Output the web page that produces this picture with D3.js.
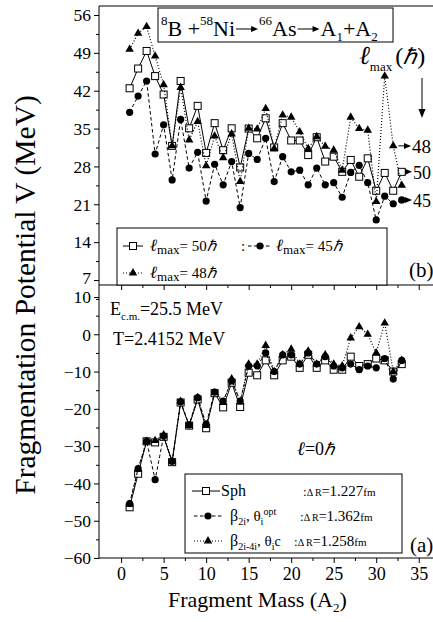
<!DOCTYPE html>
<html><head><meta charset="utf-8">
<script src="https://cdn.jsdelivr.net/npm/d3@7"></script>
<style>
body{margin:0;background:#fff}
svg{display:block}
text{font-family:"Liberation Serif","Times New Roman",serif;fill:#000}
</style>
</head><body>
<svg id="c" width="433" height="622"></svg>
<script>
// ---------- DATA ----------
const masses = [1,2,3,4,5,6,7,8,9,10,11,12,13,14,15,16,17,18,19,20,21,22,23,24,25,26,27,28,29,30,31,32,33];
// top panel (b): fragmentation potential for different l_max
const vL50 = [42.45,46.1,49.35,44.7,41.3,31.8,43.8,35.05,39.2,30.5,36.0,31.0,35.05,27.8,35.0,33.2,36.9,31.5,36.0,32.8,32.8,30.1,33.4,28.9,29.8,27.0,29.2,26.1,29.5,23.5,26.8,23.5,27.0];
const vL45 = [38.0,41.0,43.8,30.3,35.7,25.5,36.7,27.7,30.6,21.6,28.4,24.6,28.9,20.4,30.4,29.3,33.2,25.2,29.8,27.0,27.3,24.6,27.7,24.6,25.0,22.3,26.9,28.2,25.0,18.1,22.5,21.1,21.8];
const vL48 = [49.65,52.6,53.85,48.4,43.1,31.8,42.6,32.9,36.3,28.1,33.6,29.6,34.0,25.2,35.05,34.9,38.7,31.3,37.5,37.1,34.4,31.3,33.5,31.7,31.0,27.3,37.1,35.0,34.7,21.5,44.7,31.8,24.5];
// bottom panel (a): l = 0
const vSph  = [-46.4,-37.4,-28.7,-29.0,-27.5,-34.3,-18.3,-24.5,-17.5,-25.2,-15.8,-19.6,-13.0,-19.5,-10.3,-11.0,-7.0,-11.0,-7.0,-6.0,-9.0,-5.5,-9.0,-7.0,-9.5,-9.5,-6.0,-8.5,-8.0,-6.5,-7.0,-10.0,-8.0];
const vB2   = [-45.4,-36.0,-28.7,-39.0,-27.3,-34.1,-18.1,-24.3,-17.0,-24.1,-15.5,-17.9,-12.5,-17.9,-8.5,-8.5,-5.0,-10.0,-5.5,-5.5,-8.0,-5.0,-8.0,-6.0,-8.5,-9.0,-8.0,-9.5,-8.5,-9.0,-6.5,-12.0,-7.0];
const vB24  = [-45.6,-36.2,-28.7,-28.5,-27.0,-34.0,-18.0,-24.5,-17.0,-24.5,-15.7,-18.3,-12.0,-18.2,-8.0,-8.0,-3.0,-10.0,-5.5,-4.0,-8.0,-4.5,-8.0,-5.5,-8.0,-8.5,-1.0,2.0,0.0,-5.0,3.0,-10.0,-7.0];
// ticks
const xTicks = [0,5,10,15,20,25,30,35];
const topTicks = [7,14,21,28,35,42,49,56];
const botTicks = [10,0,-10,-20,-30,-40,-50,-60];
// end labels (l_max values)
const endLabels = ["48","50","45"];
const endVals = [31.8, 27.0, 21.8];
const deltaR = ["1.227","1.362","1.258"];

// ---------- LAYOUT ----------
const svg = d3.select("#c");
const PL = 99, TOP = 6, MID = 285, BOT = 558, PR = 440;
const x  = d3.scaleLinear().domain([-2.6, 37.5]).range([PL, PR]);
const yT = d3.scaleLinear().domain([7, 56]).range([280, 15]);
const yB = d3.scaleLinear().domain([-60, 10]).range([BOT, 297]);

function ln(x1,y1,x2,y2,w){ svg.append("line").attr("x1",x1).attr("y1",y1).attr("x2",x2).attr("y2",y2).attr("stroke","#000").attr("stroke-width",w||1); }

// axes
function yAxis(scale, ticks, minor){
  const g = svg.append("g").attr("transform",`translate(${PL},0)`);
  g.call(d3.axisLeft(scale).tickValues(ticks).tickSize(5).tickPadding(3).tickFormat(d3.format("d")));
  g.select(".domain").remove();
  g.selectAll("text").attr("font-size",17.5).attr("font-family","Liberation Serif").attr("dy","0.33em");
  const m = svg.append("g").attr("transform",`translate(${PL},0)`);
  m.call(d3.axisLeft(scale).tickValues(minor).tickSize(3).tickFormat(""));
  m.select(".domain").remove();
  return g;
}
const gTop = yAxis(yT, topTicks, topTicks.map(d=>d-3.5));
gTop.selectAll(".tick text").filter(d=>d===7).attr("dy","0.22em");
yAxis(yB, botTicks, botTicks.slice(0,7).map(d=>d-5));

function xAxis(yPos, labels){
  const g = svg.append("g").attr("transform",`translate(0,${yPos})`);
  g.call(d3.axisBottom(x).tickValues(xTicks).tickSize(5).tickPadding(4).tickFormat(labels? d3.format("d") : ""));
  g.select(".domain").remove();
  g.selectAll("text").attr("font-size",18).attr("font-family","Liberation Serif");
  const m = svg.append("g").attr("transform",`translate(0,${yPos})`);
  m.call(d3.axisBottom(x).tickValues(xTicks.map(d=>d+2.5)).tickSize(3).tickFormat(""));
  m.select(".domain").remove();
}
xAxis(MID, false);
xAxis(BOT, true);

// frame lines
ln(PL, TOP, 433, TOP);
ln(PL, MID, 433, MID);
ln(PL, BOT, 433, BOT);
ln(PL, TOP, PL, BOT);

// ---------- MARKERS ----------
function marker(g, kind, cx, cy){
  if(kind==="sq"){
    g.append("rect").attr("x",cx-3.5).attr("y",cy-3.5).attr("width",7).attr("height",7)
      .attr("fill","#fff").attr("stroke","#000").attr("stroke-width",1);
  } else if(kind==="ci"){
    g.append("circle").attr("cx",cx).attr("cy",cy).attr("r",3.6).attr("fill","#000");
  } else {
    const s=8.5, h=s*Math.sqrt(3)/2;
    g.append("path").attr("d",`M${cx},${cy-h*2/3}L${cx+s/2},${cy+h/3}L${cx-s/2},${cy+h/3}Z`).attr("fill","#000");
  }
}
const dashes = {sq:null, ci:"3.5,2.5", tr:"1,2"};
function series(y, vals, kind){
  const g = svg.append("g");
  const line = d3.line().x((d,i)=>x(masses[i])).y(d=>y(d));
  g.append("path").attr("d", line(vals)).attr("fill","none").attr("stroke","#000")
    .attr("stroke-width", kind==="tr"?1.2:1).attr("stroke-dasharray", dashes[kind]);
  vals.forEach((v,i)=>marker(g, kind, x(masses[i]), y(v)));
}
series(yT, vL50, "sq");
series(yT, vL45, "ci");
series(yT, vL48, "tr");
series(yB, vSph, "sq");
series(yB, vB2, "ci");
series(yB, vB24, "tr");

// ---------- TEXT HELPERS ----------
function arrowH(x1, x2, y){
  ln(x1, y, x2-5, y);
  svg.append("path").attr("d",`M${x2},${y}L${x2-7},${y-3}L${x2-7},${y+3}Z`).attr("fill","#000");
}
function rich(x0, y0, parts){
  let xx = x0;
  parts.forEach(p=>{
    if(p.arrow){ arrowH(xx+1, xx+p.arrow-1, y0-p.ay); xx += p.arrow; return; }
    if(p.gap){ xx += p.gap; return; }
    const t = svg.append("text").attr("x",xx).attr("y",y0+(p.dy||0)).attr("font-size",p.s).text(p.t);
    if(p.it) t.attr("font-style","italic");
    if(p.f) t.attr("font-family",p.f);
    xx += t.node().getComputedTextLength();
  });
  return xx;
}

// title box
svg.append("rect").attr("x",158).attr("y",8).attr("width",235).attr("height",34).attr("fill","#fff").attr("stroke","#000");
rich(161, 36, [
  {t:"8",s:13,dy:-11},{t:"B + ",s:22},{t:"58",s:13,dy:-11},{t:"Ni",s:22},
  {arrow:24, ay:7},
  {t:"66",s:13,dy:-11},{t:"As",s:22},
  {arrow:24, ay:7},
  {t:"A",s:22},{t:"1",s:13,dy:5},{t:" +",s:22},{t:"A",s:22},{t:"2",s:13,dy:5}
]);

// l_max (hbar) annotation
rich(359, 64, [{t:"ℓ",s:26,it:true},{t:"max",s:13,dy:7},{gap:3},{t:"(",s:24},{t:"ℏ",s:22,it:true,f:"DejaVu Serif"},{t:")",s:24}]);
ln(422, 78, 422, 110);
svg.append("path").attr("d","M422,118L418.5,109L425.5,109Z").attr("fill","#000");

// end arrows
const endX0 = [x(32)+5, x(33)+5, x(33)+5];
const endTx = [412, 413, 413];
const endFs = [19, 18, 18];
endLabels.forEach((l,i)=>{
  const yy = yT(endVals[i]);
  arrowH(endX0[i], endTx[i]-1, yy);
  svg.append("text").attr("x",endTx[i]).attr("y",yy+7).attr("font-size",endFs[i])
    .attr("font-family","Liberation Sans").text(l);
});

// top legend
svg.append("rect").attr("x",117).attr("y",228).attr("width",270).attr("height",57).attr("fill","#fff").attr("stroke","#000");
function legSym(xc, y, kind, w){
  const g = svg.append("g");
  g.append("line").attr("x1",xc-w).attr("x2",xc+w).attr("y1",y).attr("y2",y).attr("stroke","#000")
    .attr("stroke-dasharray",dashes[kind]);
  marker(g, kind, xc, y);
}
legSym(133, 246, "sq", 10);
rich(150, 251, [{t:"ℓ",s:17,it:true},{t:"max",s:13,dy:3},{t:"=  50 ",s:15},{t:"ℏ",s:15,it:true,f:"DejaVu Serif"}]);
svg.append("text").attr("x",241).attr("y",251).attr("font-size",15).text(":");
legSym(260, 246, "ci", 12);
rich(276, 251, [{t:"ℓ",s:17,it:true},{t:"max",s:13,dy:3},{t:"=  45 ",s:15},{t:"ℏ",s:15,it:true,f:"DejaVu Serif"}]);
legSym(133, 273, "tr", 10);
rich(150, 278, [{t:"ℓ",s:17,it:true},{t:"max",s:13,dy:3},{t:"=  48 ",s:15},{t:"ℏ",s:15,it:true,f:"DejaVu Serif"}]);

// panel labels
svg.append("text").attr("x",409).attr("y",277).attr("font-size",21).attr("font-family","Liberation Sans").text("(b)");
svg.append("text").attr("x",410).attr("y",552).attr("font-size",21).attr("font-family","Liberation Sans").text("(a)");

// bottom panel text
rich(110, 315, [{t:"E",s:18},{t:"c.m.",s:11,dy:5},{t:"=25.5 MeV",s:18}]);
rich(113, 345, [{t:"T=2.4152 MeV",s:18}]);
rich(297, 455, [{t:"ℓ",s:19,it:true},{t:"=0 ",s:18},{t:"ℏ",s:17,it:true,f:"DejaVu Serif"}]);

// bottom legend
svg.append("rect").attr("x",185).attr("y",474).attr("width",217).attr("height",79).attr("fill","#fff").attr("stroke","#000");
legSym(206, 491, "sq", 14);
rich(221, 496, [{t:"Sph",s:16}]);
legSym(208, 516, "ci", 14);
rich(230, 521, [{t:"β",s:16},{t:"2i",s:10,dy:4},{t:" , θ",s:15},{t:"i",s:10,dy:4},{t:" opt",s:10,dy:-6}]);
legSym(208, 541, "tr", 14);
rich(230, 546, [{t:"β",s:16},{t:"2i-4i",s:10,dy:4},{t:" , θ",s:15},{t:"i",s:10,dy:4},{t:"c",s:14}]);
const dRpos = [[496,303,"="],[521,300," ="],[546,294,"="]];
deltaR.forEach((v,i)=>{
  const p = dRpos[i];
  rich(p[1], p[0], [{t:": ",s:13},{t:"Δ R",s:10},{t:p[2],s:14},{t:v,s:15},{t:" fm",s:11}]);
});

// axis titles
rich(168, 607, [{t:"Fragment Mass (A",s:22},{t:"2",s:13,dy:5},{t:")",s:22}]);
svg.append("text").attr("transform","translate(35,295) rotate(-90)").attr("text-anchor","middle")
  .attr("font-size",29.5).text("Fragmentation Potential V (MeV)");
</script>
</body></html>
